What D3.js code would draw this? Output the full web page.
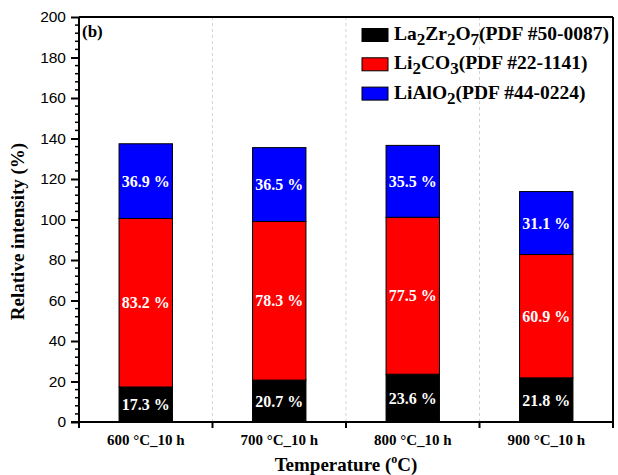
<!DOCTYPE html>
<html><head><meta charset="utf-8">
<script src="https://cdn.jsdelivr.net/npm/d3@7"></script>
<style>body{margin:0;background:#fff;} svg{display:block;}</style>
</head><body>
<svg id="c" width="618" height="475"></svg>
<script>
const categories = ["600 °C_10 h", "700 °C_10 h", "800 °C_10 h", "900 °C_10 h"];
const la2zr2o7 = [17.3, 20.7, 23.6, 21.8];
const li2co3 = [83.2, 78.3, 77.5, 60.9];
const lialo2 = [36.9, 36.5, 35.5, 31.1];
const seriesNames = ["La2Zr2O7", "Li2CO3", "LiAlO2"];
const seriesColors = ["#000000", "#ff0000", "#0000ff"];
const yTicks = [0, 20, 40, 60, 80, 100, 120, 140, 160, 180, 200];

const svg = d3.select("#c");
const M = {l: 79, r: 613, t: 17, b: 422};
const x = d3.scaleBand().domain(categories).range([M.l, M.r]).padding(0);
const y = d3.scaleLinear().domain([0, 200]).range([M.b, M.t]);

// dashed dividers
const bounds = categories.slice(1).map(c => x(c));
svg.selectAll(".div").data(bounds).enter().append("line")
  .attr("x1", d => d).attr("x2", d => d).attr("y1", M.t).attr("y2", M.b)
  .attr("stroke", "#c8c8c8").attr("stroke-width", 0.8).attr("stroke-dasharray", "3,3");

// stacked data
const rows = categories.map((c, i) => ({cat: c, La2Zr2O7: la2zr2o7[i], Li2CO3: li2co3[i], LiAlO2: lialo2[i]}));
const stack = d3.stack().keys(seriesNames)(rows);
const bw = x.bandwidth() * 0.4;
stack.forEach((layer, si) => {
  const g = svg.append("g");
  g.selectAll("rect").data(layer).enter().append("rect")
    .attr("x", d => x(d.data.cat) + x.bandwidth()/2 - bw/2)
    .attr("width", bw)
    .attr("y", d => y(d[1]))
    .attr("height", d => y(d[0]) - y(d[1]))
    .attr("fill", seriesColors[si]).attr("stroke", "#000").attr("stroke-width", 1);
  g.selectAll("text").data(layer).enter().append("text")
    .attr("x", d => x(d.data.cat) + x.bandwidth()/2)
    .attr("y", d => y((d[0] + d[1]) / 2))
    .attr("dy", "0.35em").attr("text-anchor", "middle")
    .attr("fill", "#fff").attr("font-family", "Liberation Serif, serif")
    .attr("font-weight", "bold").attr("font-size", 16)
    .text(d => (d[1] - d[0]).toFixed(1) + " %");
});

// frame
svg.append("line").attr("x1", M.l).attr("x2", M.r).attr("y1", M.t).attr("y2", M.t).attr("stroke", "#000").attr("stroke-width", 2);
svg.append("line").attr("x1", M.r).attr("x2", M.r).attr("y1", M.t).attr("y2", M.b).attr("stroke", "#000").attr("stroke-width", 2);

// y axis
const yAxis = d3.axisLeft(y).tickValues(yTicks).tickSize(8).tickPadding(5);
const gy = svg.append("g").attr("transform", `translate(${M.l},0)`).call(yAxis);
gy.select(".domain").attr("stroke-width", 2).attr("d", `M0,${M.t}V${M.b}`);
gy.selectAll(".tick line").attr("stroke-width", 2);
gy.selectAll(".tick text").attr("font-family", "Liberation Sans, Arial, sans-serif").attr("font-size", 15.5).attr("fill", "#000");
// minor ticks
const minor = d3.range(0, 201, 4).filter(v => v % 20 !== 0);
svg.append("g").selectAll("line").data(minor).enter().append("line")
  .attr("x1", M.l - 4).attr("x2", M.l).attr("y1", d => y(d)).attr("y2", d => y(d))
  .attr("stroke", "#000").attr("stroke-width", 1.5);

// x axis
const xAxis = d3.axisBottom(x).tickSize(0).tickPadding(12);
const gx = svg.append("g").attr("transform", `translate(0,${M.b})`).call(xAxis);
gx.select(".domain").attr("stroke-width", 2).attr("d", `M${M.l - 8},0H${M.r}`);
gx.selectAll(".tick text").attr("font-family", "Liberation Serif, serif").attr("font-weight", "bold").attr("font-size", 15).attr("fill", "#000");
const xb = [M.l].concat(bounds).concat([M.r]);
svg.append("g").selectAll("line").data(xb).enter().append("line")
  .attr("x1", d => d).attr("x2", d => d).attr("y1", M.b).attr("y2", M.b + 6)
  .attr("stroke", "#000").attr("stroke-width", 2);

// axis titles
const xt = svg.append("text").attr("x", (M.l + M.r) / 2).attr("y", 471).attr("text-anchor", "middle")
  .attr("font-family", "Liberation Serif, serif").attr("font-weight", "bold").attr("font-size", 19);
xt.append("tspan").text("Temperature (");
xt.append("tspan").attr("font-size", 12).attr("dy", -8).text("o");
xt.append("tspan").attr("dy", 8).text("C)");

svg.append("text").attr("transform", `translate(24,${(M.t + M.b) / 2 + 12}) rotate(-90)`).attr("text-anchor", "middle")
  .attr("font-family", "Liberation Serif, serif").attr("font-weight", "bold").attr("font-size", 19)
  .text("Relative intensity (%)");

svg.append("text").attr("x", 82).attr("y", 37).attr("font-family", "Liberation Serif, serif")
  .attr("font-weight", "bold").attr("font-size", 17).text("(b)");

// legend
const legendParts = [
  [["La", 0], ["2", 1], ["Zr", 0], ["2", 1], ["O", 0], ["7", 1], ["(PDF #50-0087)", 0]],
  [["Li", 0], ["2", 1], ["CO", 0], ["3", 1], ["(PDF #22-1141)", 0]],
  [["LiAlO", 0], ["2", 1], ["(PDF #44-0224)", 0]]
];
legendParts.forEach((parts, i) => {
  const cy = 35 + i * 29.3;
  svg.append("rect").attr("x", 362).attr("y", cy - 6.5).attr("width", 26).attr("height", 13)
    .attr("fill", seriesColors[i]).attr("stroke", "#000").attr("stroke-width", 1);
  const t = svg.append("text").attr("x", 394).attr("y", cy + 5)
    .attr("font-family", "Liberation Serif, serif").attr("font-weight", "bold").attr("font-size", 19.5);
  let prevSub = 0;
  parts.forEach(([s, sub]) => {
    const dy = (sub - prevSub) * 5;
    t.append("tspan").attr("dy", dy).attr("font-size", sub ? 17 : 19.5).text(s);
    prevSub = sub;
  });
});
</script>
</body></html>
